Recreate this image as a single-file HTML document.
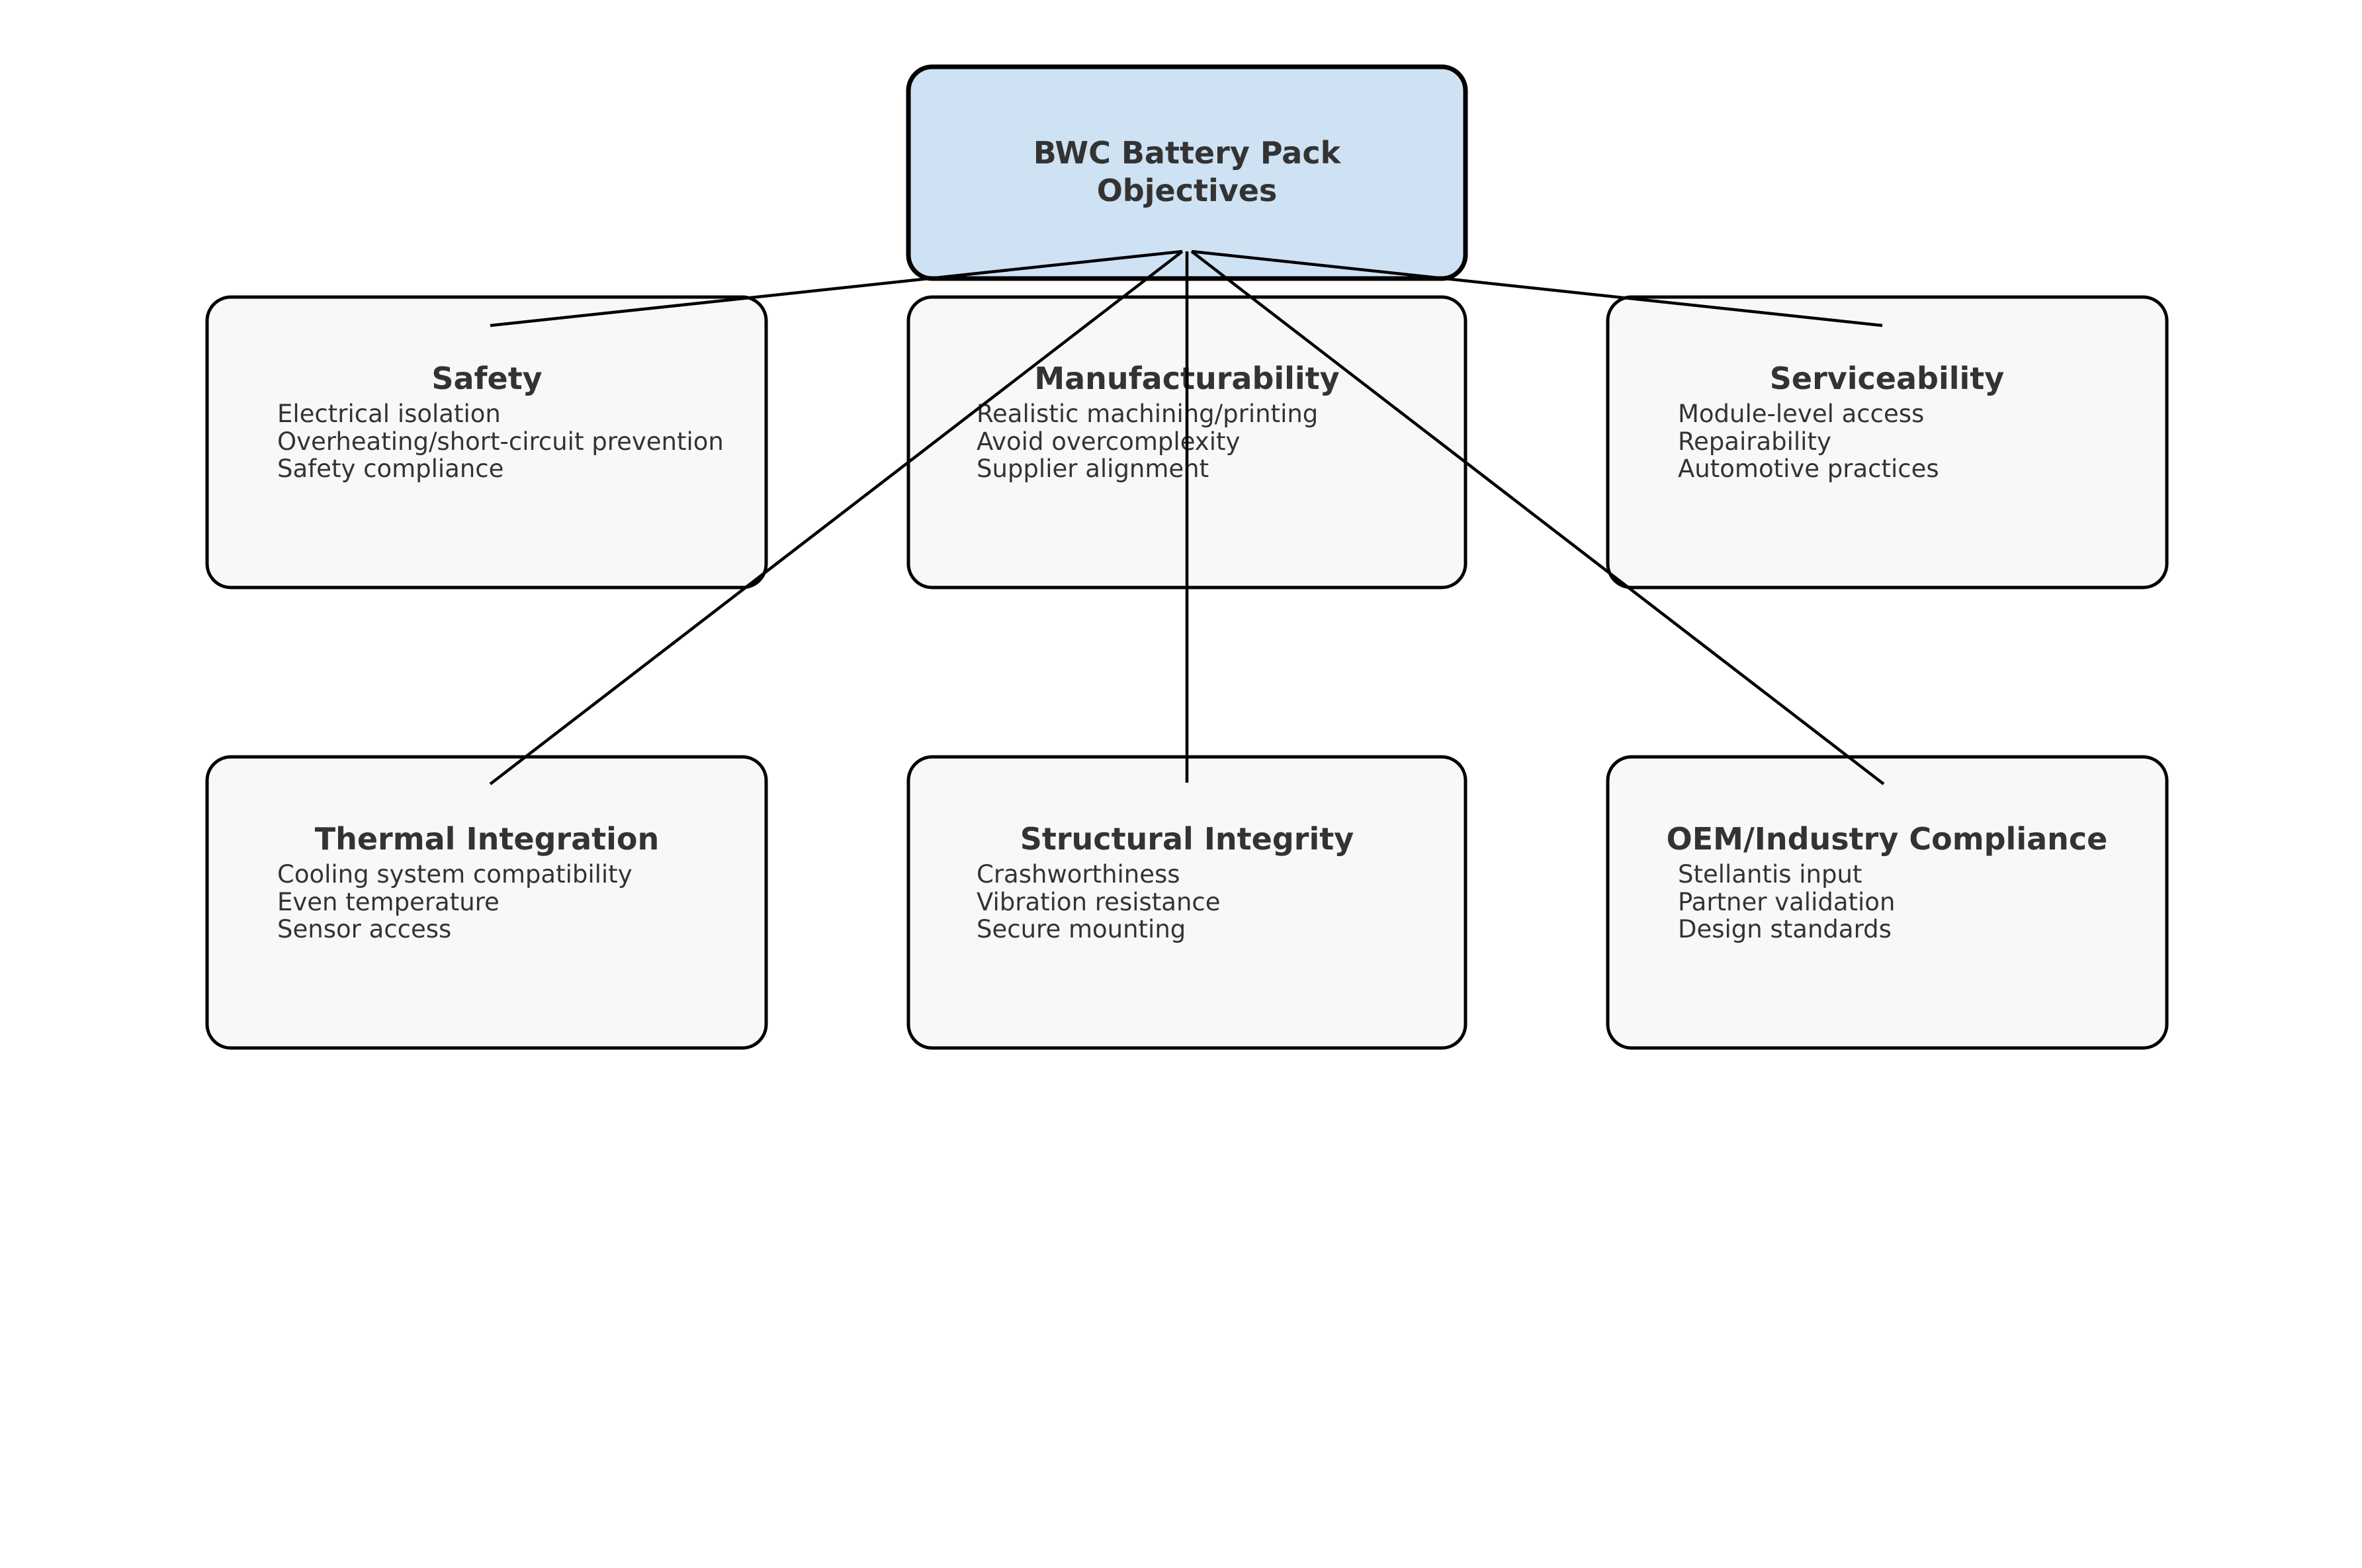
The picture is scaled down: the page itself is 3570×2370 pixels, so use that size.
<!DOCTYPE html>
<html><head><meta charset="utf-8"><style>
html,body{margin:0;padding:0;background:#fff;}
svg{display:block;}
text{font-family:"DejaVu Sans","Liberation Sans",sans-serif;fill:#333;}
.t{font-weight:bold;font-size:46px;text-anchor:middle;}
.b{font-size:37px;}
</style></head><body>
<svg width="3570" height="2370" viewBox="0 0 3570 2370" xmlns="http://www.w3.org/2000/svg">
<rect x="0" y="0" width="3570" height="2370" fill="#fff"/>
<rect x="1373" y="101" width="842" height="320" rx="36" fill="#cfe2f3" stroke="#000" stroke-width="7"/>
<g fill="#f8f8f8" stroke="#000" stroke-width="5">
<rect x="313" y="449" width="845" height="439" rx="36"/>
<rect x="1373" y="449" width="842" height="439" rx="36"/>
<rect x="2430" y="449" width="845" height="439" rx="36"/>
<rect x="313" y="1144" width="845" height="440" rx="36"/>
<rect x="1373" y="1144" width="842" height="440" rx="36"/>
<rect x="2430" y="1144" width="845" height="440" rx="36"/>
</g>
<text class="t" x="1794" y="247">BWC Battery Pack</text>
<text class="t" x="1794" y="304">Objectives</text>

<text class="t" x="736" y="588">Safety</text>
<text class="b" x="419" y="638">Electrical isolation</text>
<text class="b" x="419" y="680">Overheating/short-circuit prevention</text>
<text class="b" x="419" y="721">Safety compliance</text>

<text class="t" x="1794" y="588">Manufacturability</text>
<text class="b" x="1476" y="638">Realistic machining/printing</text>
<text class="b" x="1476" y="680">Avoid overcomplexity</text>
<text class="b" x="1476" y="721">Supplier alignment</text>

<text class="t" x="2852" y="588">Serviceability</text>
<text class="b" x="2536" y="638">Module-level access</text>
<text class="b" x="2536" y="680">Repairability</text>
<text class="b" x="2536" y="721">Automotive practices</text>

<text class="t" x="736" y="1284">Thermal Integration</text>
<text class="b" x="419" y="1334">Cooling system compatibility</text>
<text class="b" x="419" y="1376">Even temperature</text>
<text class="b" x="419" y="1417">Sensor access</text>

<text class="t" x="1794" y="1284">Structural Integrity</text>
<text class="b" x="1476" y="1334">Crashworthiness</text>
<text class="b" x="1476" y="1376">Vibration resistance</text>
<text class="b" x="1476" y="1417">Secure mounting</text>

<text class="t" x="2852" y="1284">OEM/Industry Compliance</text>
<text class="b" x="2536" y="1334">Stellantis input</text>
<text class="b" x="2536" y="1376">Partner validation</text>
<text class="b" x="2536" y="1417">Design standards</text>

<g stroke="#000" stroke-width="4.5" fill="none">
<line x1="1787" y1="380" x2="741" y2="492"/>
<line x1="1787" y1="380" x2="741" y2="1185"/>
<line x1="1794" y1="380" x2="1794" y2="1183"/>
<line x1="1801" y1="380" x2="2845" y2="492"/>
<line x1="1801" y1="380" x2="2847" y2="1185"/>
</g>
</svg>
</body></html>
